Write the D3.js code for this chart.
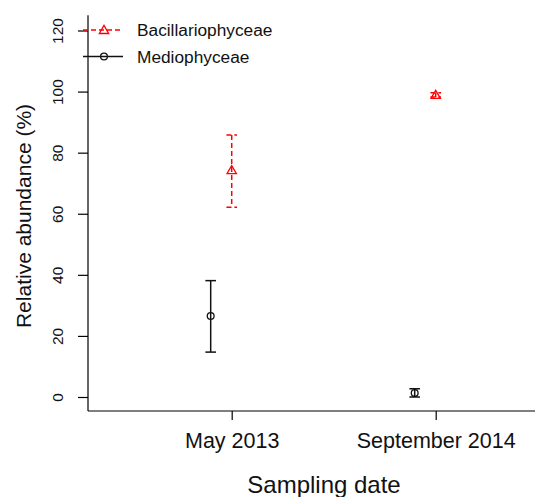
<!DOCTYPE html>
<html>
<head>
<meta charset="utf-8">
<script src="https://cdn.jsdelivr.net/npm/d3@7"></script>
<style>
  html, body { margin: 0; padding: 0; background: #fff; }
  svg { display: block; font-family: "Liberation Sans", Arial, sans-serif; }
</style>
</head>
<body>
<svg id="chart" width="535" height="497"></svg>
<script>
// ---- Data ----
const categories = ["May 2013", "September 2014"];
const seriesNames = ["Bacillariophyceae", "Mediophyceae"];
const bacMean = [74.3, 98.9];
const bacLow  = [62.1, 98.2];
const bacHigh = [85.8, 99.6];
const medMean = [26.5, 1.3];
const medLow  = [14.7, 0.0];
const medHigh = [38.1, 2.7];
const yTicks = [0, 20, 40, 60, 80, 100, 120];

// ---- Layout ----
const svg = d3.select("#chart");
const x = d3.scaleLinear().domain([0, 1]).range([231.7, 435.7]);
const y = d3.scaleLinear().domain([0, 120]).range([397, 30.5]);
const xLeft = 88, xRight = 535;
const yTop = y(125), yBottom = 411;

// Y axis
const yAxis = d3.axisLeft(y).tickValues(yTicks).tickSize(10).tickPadding(5).tickFormat(d3.format("d"));
const gy = svg.append("g").attr("transform", `translate(${xLeft},0)`).call(yAxis);
gy.select(".domain").remove();
gy.append("line").attr("x1", 0).attr("x2", 0).attr("y1", yTop).attr("y2", yBottom).attr("stroke", "#000").attr("stroke-width", 1.2);
gy.selectAll(".tick line").attr("stroke", "#000").attr("stroke-width", 1.2);
gy.selectAll(".tick text")
  .attr("transform", "rotate(-90)")
  .attr("x", 0).attr("y", -30)
  .attr("dy", "0.35em")
  .style("text-anchor", "middle")
  .style("font-size", "15.5px")
  .style("fill", "#111");

// X axis
const xAxis = d3.axisBottom(x).tickValues([0, 1]).tickSize(9).tickPadding(0).tickFormat(i => categories[i]);
const gx = svg.append("g").attr("transform", `translate(0,${yBottom})`).call(xAxis);
gx.select(".domain").remove();
gx.append("line").attr("x1", xLeft).attr("x2", xRight).attr("y1", 0).attr("y2", 0).attr("stroke", "#000").attr("stroke-width", 1.2);
gx.selectAll(".tick line").attr("stroke", "#000").attr("stroke-width", 1.2);
gx.selectAll(".tick text")
  .attr("y", 37).attr("dy", null)
  .style("font-size", "21.5px")
  .style("fill", "#111");

// Axis titles
svg.append("text")
  .attr("transform", `translate(31,216) rotate(-90)`)
  .attr("text-anchor", "middle")
  .style("font-size", "21px")
  .style("fill", "#111")
  .text("Relative abundance (%)");
svg.append("text")
  .attr("x", 324).attr("y", 493)
  .attr("text-anchor", "middle")
  .style("font-size", "24px")
  .style("fill", "#111")
  .text("Sampling date");

// Series
const series = [
  { name: seriesNames[0], mean: bacMean, lo: bacLow, hi: bacHigh, off: 0, color: "#ff0000", dash: "5,3", shape: "tri" },
  { name: seriesNames[1], mean: medMean, lo: medLow, hi: medHigh, off: -0.103, color: "#111", dash: null, shape: "circ" }
];

function marker(g, shape, cx, cy, color) {
  if (shape === "tri") {
    const s = d3.symbol().type(d3.symbolTriangle).size(38);
    g.append("path").attr("d", s()).attr("transform", `translate(${cx},${cy+0.8})`)
      .attr("fill", "none").attr("stroke", color).attr("stroke-width", 1.3);
  } else {
    g.append("circle").attr("cx", cx).attr("cy", cy).attr("r", 3.4)
      .attr("fill", "none").attr("stroke", color).attr("stroke-width", 1.3);
  }
}

series.forEach(s => {
  const g = svg.append("g");
  s.mean.forEach((m, i) => {
    const cx = x(i + s.off);
    g.append("line").attr("x1", cx).attr("x2", cx).attr("y1", y(s.hi[i])).attr("y2", y(s.lo[i]))
      .attr("stroke", s.color).attr("stroke-width", 1.5).attr("stroke-dasharray", s.dash);
    [s.hi[i], s.lo[i]].forEach(v => {
      g.append("line").attr("x1", cx - 5.3).attr("x2", cx + 5.3).attr("y1", y(v)).attr("y2", y(v))
        .attr("stroke", s.color).attr("stroke-width", 1.5).attr("stroke-dasharray", s.dash);
    });
    marker(g, s.shape, cx, y(m), s.color);
  });
});

// Legend
const legend = svg.append("g");
series.forEach((s, i) => {
  const ly = 30 + i * 26.5;
  legend.append("line").attr("x1", 83).attr("x2", 123).attr("y1", ly).attr("y2", ly)
    .attr("stroke", s.color).attr("stroke-width", 1.3).attr("stroke-dasharray", s.dash);
  marker(legend, s.shape, 104, ly, s.color);
  legend.append("text").attr("x", 137).attr("y", ly).attr("dy", "0.35em")
    .style("font-size", "17.3px").style("fill", "#111").text(s.name);
});
</script>
</body>
</html>
